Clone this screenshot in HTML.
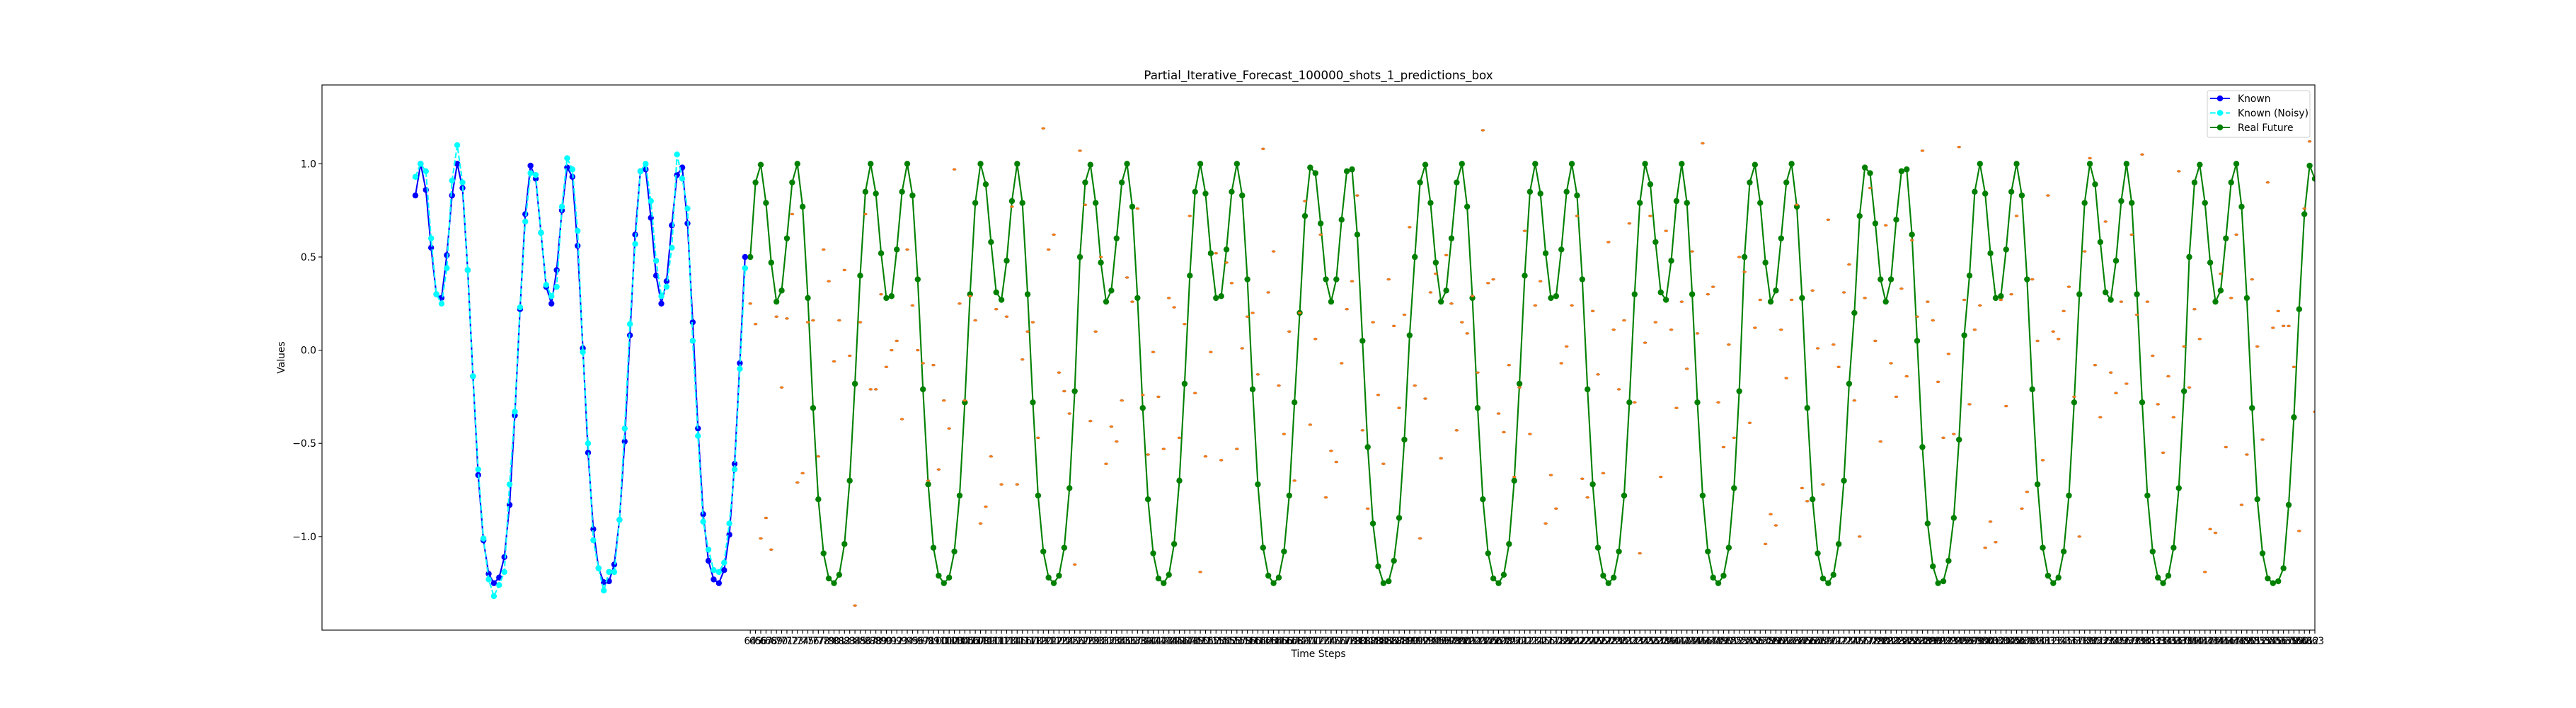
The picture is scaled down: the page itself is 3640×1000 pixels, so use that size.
<!DOCTYPE html>
<html><head><meta charset="utf-8">
<style>
html,body{margin:0;padding:0;background:#fff;}
svg{display:block;font-family:"DejaVu Sans","Liberation Sans",sans-serif;}
</style></head>
<body>
<svg id="chart" xmlns="http://www.w3.org/2000/svg" width="3640" height="1000" viewBox="0 0 3640 1000">
<rect x="0" y="0" width="3640" height="1000" fill="#fff"/>
<defs><clipPath id="plotclip"><rect x="455" y="120" width="2816" height="770"/></clipPath></defs>
<text x="1863" y="112" font-size="16.7" text-anchor="middle" fill="#000">Partial_Iterative_Forecast_100000_shots_1_predictions_box</text>
<g id="plot" clip-path="url(#plotclip)"></g>
<rect x="455" y="120" width="2816" height="770" fill="none" stroke="#000" stroke-width="1.1"/>
<g id="yticks"></g>
<g id="xticks"></g>
<text x="1863" y="928" font-size="13.9" text-anchor="middle">Time Steps</text>
<text x="402" y="505" font-size="13.9" text-anchor="middle" transform="rotate(-90 402 505)">Values</text>
<g>
<rect x="3119" y="128" width="145" height="66" rx="3" fill="#fff" fill-opacity="0.8" stroke="#ccc" stroke-width="1"/>
<g><line x1="3123" y1="139" x2="3151" y2="139" stroke="#0000ff" stroke-width="2.1"/><circle cx="3137" cy="139" r="4.2" fill="#0000ff"/><text x="3162" y="144" font-size="13.9">Known</text></g>
<g><line x1="3123" y1="159.5" x2="3151" y2="159.5" stroke="#00ffff" stroke-width="2.1" stroke-dasharray="7.7,3.3"/><circle cx="3137" cy="159.5" r="4.2" fill="#00ffff"/><text x="3162" y="164.5" font-size="13.9">Known (Noisy)</text></g>
<g><line x1="3123" y1="180" x2="3151" y2="180" stroke="#008000" stroke-width="2.1"/><circle cx="3137" cy="180" r="4.2" fill="#008000"/><text x="3162" y="185" font-size="13.9">Real Future</text></g>
</g>
</svg>
<script>
const knownValues = [0.83,1.0,0.86,0.55,0.30,0.28,0.51,0.83,1.0,0.87,0.43,-0.14,-0.67,-1.02,-1.20,-1.25,-1.22,-1.11,-0.83,-0.35,0.22,0.73,0.99,0.92,0.63,0.34,0.25,0.43,0.75,0.98,0.93,0.56,0.01,-0.55,-0.96,-1.17,-1.245,-1.24,-1.15,-0.91,-0.49,0.08,0.62,0.96,0.97,0.71,0.40,0.25,0.37,0.67,0.94,0.98,0.68,0.15,-0.42,-0.88,-1.13,-1.23,-1.25,-1.18,-0.99,-0.61,-0.07,0.50];
const noisyValues = [0.93,1.0,0.96,0.60,0.30,0.25,0.44,0.91,1.10,0.90,0.43,-0.14,-0.64,-1.01,-1.23,-1.32,-1.26,-1.19,-0.72,-0.33,0.23,0.69,0.95,0.94,0.63,0.35,0.29,0.34,0.77,1.03,0.97,0.64,-0.01,-0.50,-1.02,-1.17,-1.29,-1.19,-1.19,-0.91,-0.42,0.14,0.57,0.96,1.0,0.80,0.48,0.29,0.34,0.55,1.05,0.92,0.76,0.05,-0.46,-0.92,-1.07,-1.18,-1.19,-1.14,-0.93,-0.64,-0.10,0.44];
const futureStart = 64;
const futureValues = [
0.50,0.90,0.995,0.79,0.47,0.26,0.32,0.60,0.90,1.0,0.77,0.28,-0.31,-0.80,-1.09,-1.225,-1.25,-1.205,-1.04,-0.70,-0.18,
0.40,0.85,1.0,0.84,0.52,0.28,0.29,0.54,0.85,1.0,0.83,0.38,-0.21,-0.72,-1.06,-1.21,-1.25,-1.22,-1.08,-0.78,-0.28,
0.30,0.79,1.0,0.89,0.58,0.31,0.27,0.48,0.80,1.0,0.79,0.30,-0.28,-0.78,-1.08,-1.22,-1.25,-1.21,-1.06,-0.74,-0.22,
0.50,0.90,0.995,0.79,0.47,0.26,0.32,0.60,0.90,1.0,0.77,0.28,-0.31,-0.80,-1.09,-1.225,-1.25,-1.205,-1.04,-0.70,-0.18,
0.40,0.85,1.0,0.84,0.52,0.28,0.29,0.54,0.85,1.0,0.83,0.38,-0.21,-0.72,-1.06,-1.21,-1.25,-1.22,-1.08,-0.78,-0.28,
0.20,0.72,0.98,0.95,0.68,0.38,0.26,0.38,0.70,0.96,0.97,0.62,0.05,-0.52,-0.93,-1.16,-1.25,-1.24,-1.13,-0.90,-0.48,0.08,
0.50,0.90,0.995,0.79,0.47,0.26,0.32,0.60,0.90,1.0,0.77,0.28,-0.31,-0.80,-1.09,-1.225,-1.25,-1.205,-1.04,-0.70,-0.18,
0.40,0.85,1.0,0.84,0.52,0.28,0.29,0.54,0.85,1.0,0.83,0.38,-0.21,-0.72,-1.06,-1.21,-1.25,-1.22,-1.08,-0.78,-0.28,
0.30,0.79,1.0,0.89,0.58,0.31,0.27,0.48,0.80,1.0,0.79,0.30,-0.28,-0.78,-1.08,-1.22,-1.25,-1.21,-1.06,-0.74,-0.22,
0.50,0.90,0.995,0.79,0.47,0.26,0.32,0.60,0.90,1.0,0.77,0.28,-0.31,-0.80,-1.09,-1.225,-1.25,-1.205,-1.04,-0.70,-0.18,
0.20,0.72,0.98,0.95,0.68,0.38,0.26,0.38,0.70,0.96,0.97,0.62,0.05,-0.52,-0.93,-1.16,-1.25,-1.24,-1.13,-0.90,-0.48,0.08,
0.40,0.85,1.0,0.84,0.52,0.28,0.29,0.54,0.85,1.0,0.83,0.38,-0.21,-0.72,-1.06,-1.21,-1.25,-1.22,-1.08,-0.78,-0.28,
0.30,0.79,1.0,0.89,0.58,0.31,0.27,0.48,0.80,1.0,0.79,0.30,-0.28,-0.78,-1.08,-1.22,-1.25,-1.21,-1.06,-0.74,-0.22,
0.50,0.90,0.995,0.79,0.47,0.26,0.32,0.60,0.90,1.0,0.77,0.28,-0.31,-0.80,-1.09,-1.225,-1.25,-1.24,-1.17,-0.83,-0.36,
0.22,0.73,0.99,0.92];
const predValues = [
0.25,0.14,-1.01,-0.90,-1.07,0.18,-0.20,0.17,0.73,-0.71,-0.66,0.15,0.16,-0.57,0.54,0.37,-0.06,0.16,0.43,-0.03,
-1.37,0.15,0.73,-0.21,-0.21,0.30,-0.09,0.00,0.05,-0.37,0.54,0.24,0.00,-0.07,-0.70,-0.08,-0.64,-0.27,-0.42,0.97,
0.25,-0.27,0.29,0.16,-0.93,-0.84,-0.57,0.22,-0.72,0.18,0.77,-0.72,
-0.05,0.10,0.15,-0.47,1.19,0.54,0.62,-0.12,-0.22,-0.34,-1.15,1.07,0.78,-0.38,0.10,0.50,-0.61,-0.41,-0.49,-0.27,
0.39,0.26,0.76,-0.24,-0.56,-0.01,-0.25,-0.53,0.28,0.23,-0.47,0.14,0.72,-0.23,-1.19,-0.57,-0.01,0.52,-0.59,0.47,
0.36,-0.53,0.01,0.18,0.20,-0.13,1.08,0.31,0.53,-0.19,-0.45,0.10,-0.70,0.20,0.80,-0.40,0.06,0.62,-0.79,-0.54,
-0.60,-0.07,0.22,0.37,0.83,-0.43,-0.85,0.15,-0.24,-0.61,0.38,0.13,-0.31,0.19,0.66,-0.19,-1.01,-0.26,0.31,0.41,
-0.58,0.51,0.25,-0.43,
0.15,0.09,0.29,-0.12,1.18,0.36,0.38,-0.34,-0.44,-0.08,-0.68,-0.20,0.64,-0.45,0.24,0.37,-0.93,-0.67,-0.85,-0.07,
0.02,0.24,0.72,-0.69,-0.79,0.21,-0.13,-0.66,0.58,0.11,-0.21,0.16,0.68,-0.28,-1.09,0.04,0.72,0.15,-0.68,0.64,
0.11,-0.31,0.26,-0.10,0.53,0.09,1.11,0.30,0.34,-0.28,-0.52,0.03,-0.47,0.50,0.42,-0.39,0.12,0.27,-1.04,-0.88,
-0.94,0.11,-0.15,0.27,0.78,-0.74,-0.81,0.32,0.01,-0.72,0.70,0.03,-0.09,0.31,0.46,-0.27,-1.00,0.28,0.87,0.05,
-0.49,0.67,-0.07,-0.25,0.33,-0.14,0.59,0.18,1.07,0.26,0.16,-0.17,-0.47,-0.02,-0.45,1.09,0.27,-0.29,0.11,0.24,
-1.06,-0.92,-1.03,0.27,-0.30,0.30,0.72,-0.85,-0.76,0.38,0.05,-0.59,0.83,0.10,0.06,0.21,0.34,-0.25,-1.00,0.53,
1.03,-0.08,-0.36,0.69,-0.12,-0.23,0.26,-0.18,0.62,0.19,1.05,0.26,-0.03,-0.29,-0.55,-0.14,-0.36,0.96,0.02,-0.20,
0.22,0.06,-1.19,-0.96,-0.98,0.41,-0.52,0.28,0.62,-0.83,-0.56,0.38,0.02,-0.48,0.90,0.12,0.21,0.13,0.13,-0.09,
-0.97,0.76,1.12,-0.33];
const yTickValues = [1.0,0.5,0.0,-0.5,-1.0];
const yTickLabels = ["1.0","0.5","0.0","\u22120.5","\u22121.0"];

const NS = "http://www.w3.org/2000/svg";
const X0 = 455, X1 = 3271, Y0 = 120, Y1 = 890;
const xMin = -17.85, xMax = 363, yMin = -1.502, yMax = 1.423;
function xs(i){ return X0 + (i - xMin) / (xMax - xMin) * (X1 - X0); }
function ys(v){ return Y1 - (v - yMin) / (yMax - yMin) * (Y1 - Y0); }
function mk(tag, attrs, parent){ const e = document.createElementNS(NS, tag); for (const k in attrs) e.setAttribute(k, attrs[k]); parent.appendChild(e); return e; }

const plot = document.getElementById("plot");
function series(vals, start, color, dash, name){
  const g = mk("g", {}, plot);
  
  
  const pts = vals.map((v, k) => xs(start + k).toFixed(2) + "," + ys(v).toFixed(2)).join(" ");
  const pl = mk("polyline", {points: pts, fill: "none", stroke: color, "stroke-width": 2.1, "stroke-linejoin": "round"}, g);
  if (dash) pl.setAttribute("stroke-dasharray", dash);
  
  
  vals.forEach((v, k) => {
    const c = mk("circle", {cx: xs(start + k).toFixed(2), cy: ys(v).toFixed(2), r: 4.2, fill: color}, g);
    
    
  });
}
series(futureValues, futureStart, "#008000", null, "real-future-series");
series(knownValues, 0, "#0000ff", null, "known-series");
series(noisyValues, 0, "#00ffff", "7.7,3.3", "known-noisy-series");
const pg = mk("g", {}, plot);


predValues.forEach((v, k) => {
  const e = mk("ellipse", {cx: xs(futureStart + k).toFixed(2), cy: ys(v).toFixed(2), rx: 2.6, ry: 1.5, fill: "#ff7f0e", stroke: "#a0522d", "stroke-width": 0.4}, pg);
  
  
});

const yt = document.getElementById("yticks");
yTickValues.forEach((v, k) => {
  const y = ys(v);
  const l = mk("line", {x1: X0 - 4.9, y1: y, x2: X0, y2: y, stroke: "#000", "stroke-width": 1.1}, yt);
  
  
  const t = mk("text", {x: X0 - 8, y: y + 5, "font-size": 13.9, "text-anchor": "end"}, yt);
  t.textContent = yTickLabels[k];
  
  
});
const xt = document.getElementById("xticks");
for (let k = 0; k < futureValues.length; k++){
  const i = futureStart + k;
  const x = xs(i);
  const l = mk("line", {x1: x, y1: Y1, x2: x, y2: Y1 + 4.9, stroke: "#000", "stroke-width": 1.1}, xt);
  
  
  const t = mk("text", {x: x, y: Y1 + 20, "font-size": 13.9, "text-anchor": "middle"}, xt);
  t.textContent = String(i);
  
  
}
</script>
</body></html>
